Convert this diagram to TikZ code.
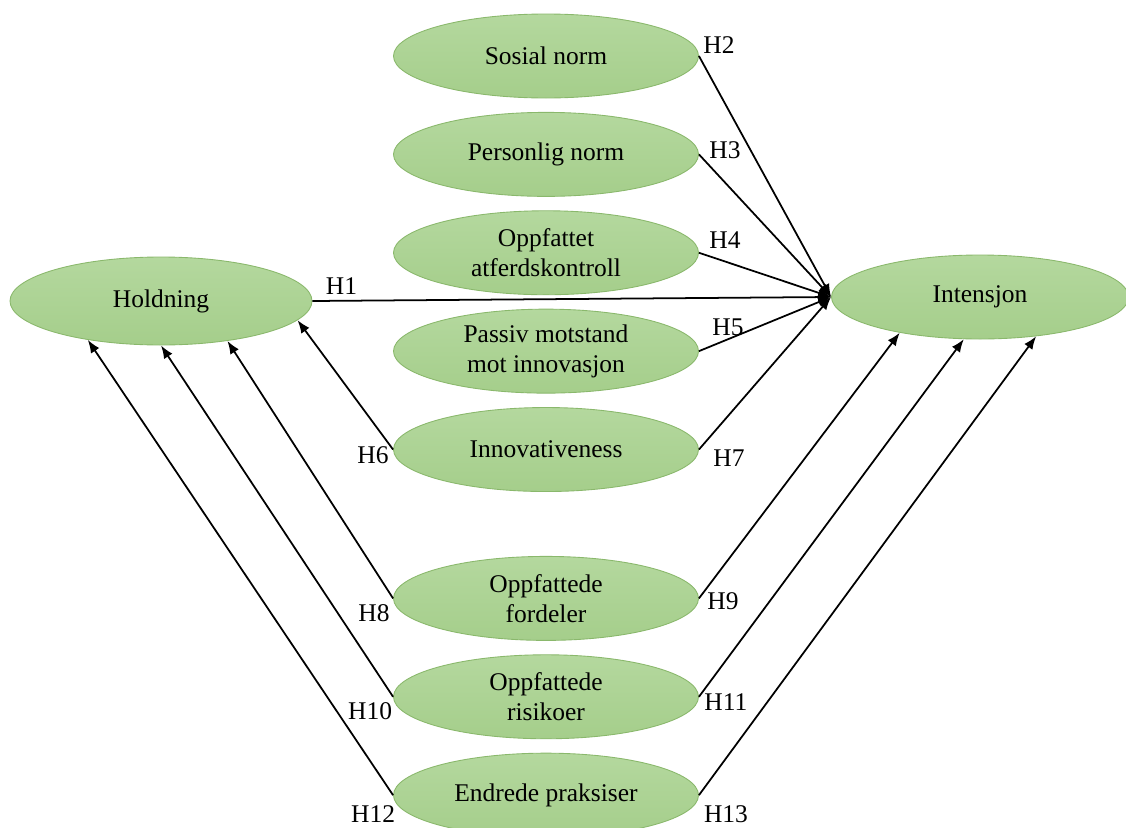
\documentclass[tikz,border=0pt]{standalone}
\usepackage{fontspec}
\setmainfont{Liberation Serif}
\usetikzlibrary{shapes.geometric,positioning,arrows.meta}
\definecolor{ellTop}{RGB}{180,216,158}
\definecolor{ellBot}{RGB}{165,206,139}
\definecolor{ellLine}{RGB}{138,184,108}
\tikzset{
  construct/.style={ellipse, draw=ellLine, line width=0.5pt, top color=ellTop, bottom color=ellBot,
    minimum width=6.1cm, minimum height=1.68cm, inner sep=0pt, align=center,
    font=\fontsize{14.5}{17}\selectfont},
  hyp/.style={inner sep=0pt, font=\fontsize{14.5}{17}\selectfont},
  hedge/.style={-{Latex[length=2.6mm,width=2mm]}, line width=1pt}
}

\begin{document}
\begin{tikzpicture}[node distance=0.27cm]
  \useasboundingbox (0,0) rectangle (22.52,-16.54);

  \node[construct] (S-norm) at (10.92,-1.12) {Sosial norm};
  \node[construct, below=of S-norm]     (P-norm)  {Personlig norm};
  \node[construct, below=of P-norm]     (PBC)     {Oppfattet\\atferdskontroll};
  \node[construct, below=of PBC]        (PRI)     {Passiv motstand\\mot innovasjon};
  \node[construct, below=of PRI]        (Innov)   {Innovativeness};
  \node[construct, below=1.28cm of Innov] (Fordel) {Oppfattede\\fordeler};
  \node[construct, below=of Fordel]     (Risiko)  {Oppfattede\\risikoer};
  \node[construct, below=of Risiko]     (Praksis) {Endrede praksiser};
  \node[construct, minimum width=6.04cm, minimum height=1.76cm] (Hold) at (3.22,-6.02) {Holdning};
  \node[construct, minimum width=5.94cm] (Int) at (19.6,-5.94) {Intensjon};

  \draw[hedge] (Hold.east)    -- (Int.west);
  \draw[hedge] (S-norm.east)  -- (Int.west);
  \draw[hedge] (P-norm.east)  -- (Int.west);
  \draw[hedge] (PBC.east)     -- (Int.west);
  \draw[hedge] (PRI.east)     -- (Int.west);
  \draw[hedge] (Innov.west)   -- (Hold.-8);
  \draw[hedge] (Innov.east)   -- (Int.west);
  \draw[hedge] (Fordel.west)  -- (Hold.-31);
  \draw[hedge] (Fordel.east)  -- (Int.-156);
  \draw[hedge] (Risiko.west)  -- (Hold.-90);
  \draw[hedge] (Risiko.east)  -- (Int.-111);
  \draw[hedge] (Praksis.west) -- (Hold.-152);
  \draw[hedge] (Praksis.east) -- (Int.-35);

  \node[hyp] (h1)  at ([shift={(0.58,0.30)}]Hold.east)     {H1};
  \node[hyp] (h2)  at ([shift={(0.40,0.22)}]S-norm.east)   {H2};
  \node[hyp] (h3)  at ([shift={(0.52,0.08)}]P-norm.east)   {H3};
  \node[hyp] (h4)  at ([shift={(0.52,0.26)}]PBC.east)      {H4};
  \node[hyp] (h5)  at ([shift={(0.58,0.48)}]PRI.east)      {H5};
  \node[hyp] (h6)  at ([shift={(-0.40,-0.12)}]Innov.west)  {H6};
  \node[hyp] (h7)  at ([shift={(0.60,-0.18)}]Innov.east)   {H7};
  \node[hyp] (h8)  at ([shift={(-0.38,-0.30)}]Fordel.west) {H8};
  \node[hyp] (h9)  at ([shift={(0.48,-0.06)}]Fordel.east)  {H9};
  \node[hyp] (h10) at ([shift={(-0.46,-0.28)}]Risiko.west) {H10};
  \node[hyp] (h11) at ([shift={(0.54,-0.10)}]Risiko.east)  {H11};
  \node[hyp] (h12) at ([shift={(-0.40,-0.38)}]Praksis.west) {H12};
  \node[hyp] (h13) at ([shift={(0.54,-0.38)}]Praksis.east) {H13};
\end{tikzpicture}
\end{document}
